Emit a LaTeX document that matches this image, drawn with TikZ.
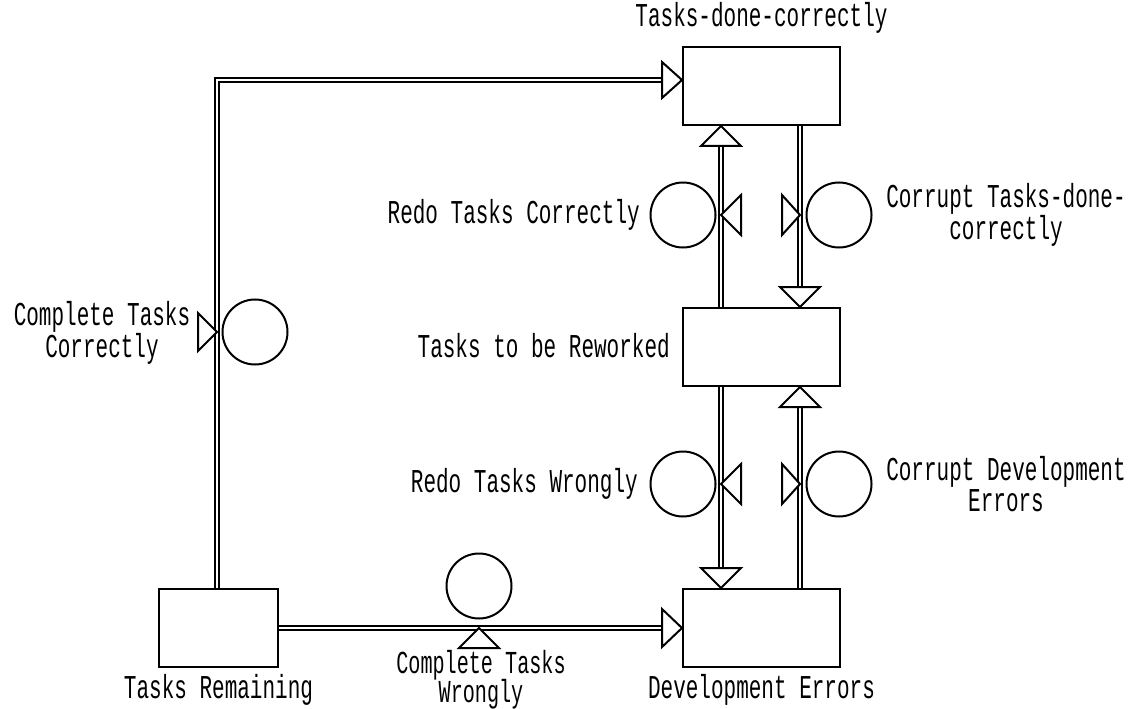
\documentclass[tikz,border=0pt]{standalone}
\usepackage{fontspec}
\setmainfont{Liberation Mono}[FakeStretch=0.63]
\usetikzlibrary{calc}

\begin{document}
\begin{tikzpicture}[x=0.75pt, y=-0.75pt,
  font=\fontsize{25pt}{23pt}\selectfont,
  stock/.style={draw, line width=1.5pt, minimum width=117.75pt, minimum height=58.5pt, inner sep=0pt},
  valve/.style={draw, circle, line width=1.5pt, minimum size=48.75pt, inner sep=0pt},
  pipe/.style={double, double distance=2pt, line width=1.2pt},
  tip/.style={draw, fill=white, line width=1.5pt},
  lbl/.style={align=center, inner sep=0pt}]
\useasboundingbox (0,0) rectangle (1148,709);

% stocks
\node[stock] (done) at (761.5,86) {};
\node[stock] (rework) at (761.5,347) {};
\node[stock] (errors) at (761.5,628) {};
\node[stock, minimum width=89.25pt] (remain) at (218.5,628) {};

% pipe positions
\coordinate (p1) at (217,80);
\coordinate (p2) at (721,0);
\coordinate (p3) at (800,0);

% valves
\node[valve] (ctc) at (255,332) {};
\node[valve] (ctw) at (479,586) {};
\node[valve] (rtc) at (683,215) {};
\node[valve] (cdc) at (839,215) {};
\node[valve] (rtw) at (683,484) {};
\node[valve] (cde) at (839,484) {};

% flows
\draw[pipe, shorten >=15pt] (remain.north -| p1) -- (p1) -- (p1 -| done.west);
\draw[tip] (p1 -| done.west) -- ++(-20,-18) -- ++(0,36) -- cycle;

\draw[pipe, shorten >=15pt] (remain.east) -- (errors.west);
\draw[tip] (errors.west) -- ++(-20,-19) -- ++(0,38) -- cycle;

\draw[pipe, shorten >=15pt] (rework.north -| p2) -- (done.south -| p2);
\draw[tip] (done.south -| p2) -- ++(-20,20) -- ++(40,0) -- cycle;

\draw[pipe, shorten >=15pt] (done.south -| p3) -- (rework.north -| p3);
\draw[tip] (rework.north -| p3) -- ++(-20,-20) -- ++(40,0) -- cycle;

\draw[pipe, shorten >=15pt] (rework.south -| p2) -- (errors.north -| p2);
\draw[tip] (errors.north -| p2) -- ++(-20,-20) -- ++(40,0) -- cycle;

\draw[pipe, shorten >=15pt] (errors.north -| p3) -- (rework.south -| p3);
\draw[tip] (rework.south -| p3) -- ++(-20,20) -- ++(40,0) -- cycle;

% valve triangles
\draw[tip] (ctc -| p1) -- ++(-19,-19) -- ++(0,38) -- cycle;
\draw[tip] (ctw |- remain.east) -- ++(-20,20) -- ++(40,0) -- cycle;
\draw[tip] (rtc -| p2) -- ++(20,-20) -- ++(0,40) -- cycle;
\draw[tip] (cdc -| p3) -- ++(-18,-20) -- ++(0,40) -- cycle;
\draw[tip] (rtw -| p2) -- ++(20,-20) -- ++(0,40) -- cycle;
\draw[tip] (cde -| p3) -- ++(-18,-20) -- ++(0,40) -- cycle;

% labels
\node[lbl] (donelbl) at (761.5,18) {Tasks-done-correctly};
\node[lbl, anchor=east] (reworklbl) at (670,346) {Tasks to be Reworked};
\node[lbl] (errorslbl) at (761.5,690) {Development Errors};
\node[lbl] (remainlbl) at (218.5,690) {Tasks Remaining};
\node[lbl] (ctclbl) at (102,333) {Complete Tasks\\Correctly};
\node[lbl, font=\fontsize{24pt}{23pt}\selectfont] (ctwlbl) at (481,680) {Complete Tasks\\[-1pt]Wrongly};
\node[lbl, anchor=east] (rtclbl) at (640,215) {Redo Tasks Correctly};
\node[lbl, anchor=east] (rtwlbl) at (638,484) {Redo Tasks Wrongly};
\node[lbl] (cdclbl) at (1006,215) {Corrupt Tasks-done-\\correctly};
\node[lbl] (cdelbl) at (1006,484) {Corrupt Development\\Errors};
\end{tikzpicture}
\end{document}
